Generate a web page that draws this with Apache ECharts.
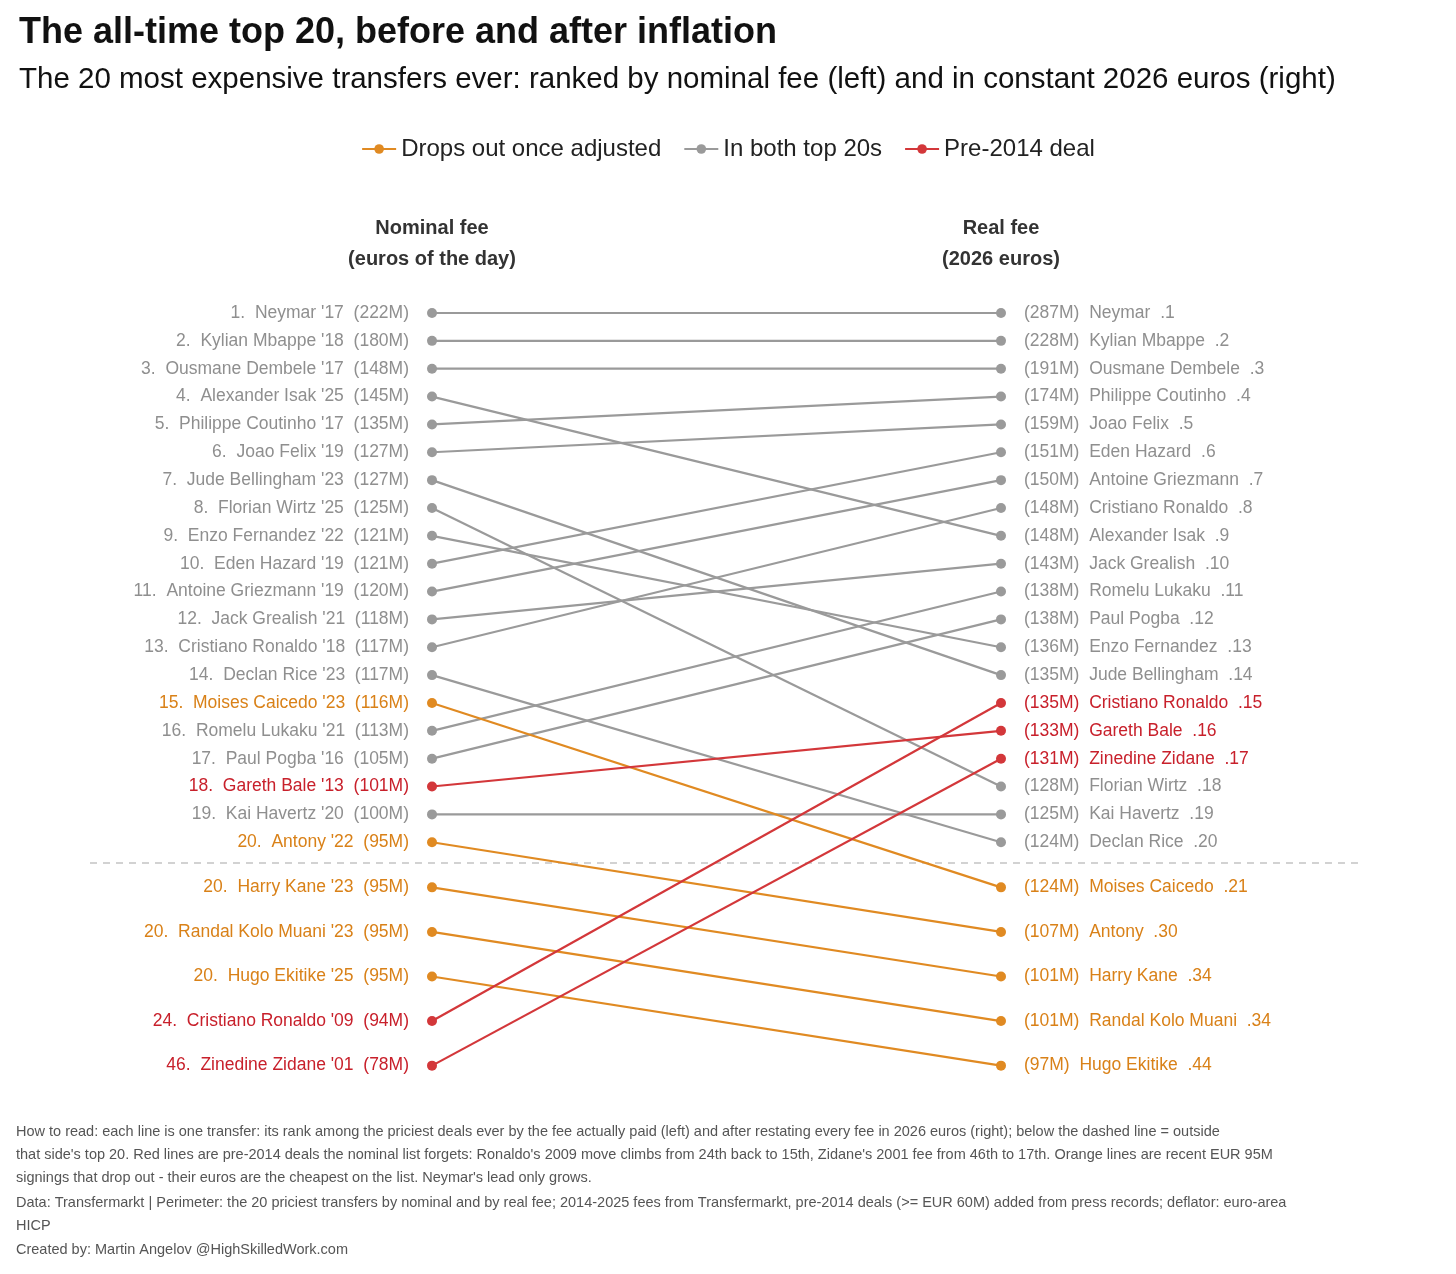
<!DOCTYPE html>
<html><head><meta charset="utf-8">
<script src="https://cdn.jsdelivr.net/npm/echarts@6/dist/echarts.min.js"></script>
<style>html,body{margin:0;padding:0;background:#fff}#c{width:1456px;height:1274px}</style>
</head><body><div id="c"></div>
<script>
const names=["Neymar","Kylian Mbappe","Ousmane Dembele","Alexander Isak","Philippe Coutinho","Joao Felix","Jude Bellingham","Florian Wirtz","Enzo Fernandez","Eden Hazard","Antoine Griezmann","Jack Grealish","Cristiano Ronaldo","Declan Rice","Moises Caicedo","Romelu Lukaku","Paul Pogba","Gareth Bale","Kai Havertz","Antony","Harry Kane","Randal Kolo Muani","Hugo Ekitike","Cristiano Ronaldo","Zinedine Zidane"];
const years=["17","18","17","25","17","19","23","25","22","19","19","21","18","23","23","21","16","13","20","22","23","23","25","09","01"];
const nominalRank=[1,2,3,4,5,6,7,8,9,10,11,12,13,14,15,16,17,18,19,20,20,20,20,24,46];
const nominalFee=[222,180,148,145,135,127,127,125,121,121,120,118,117,117,116,113,105,101,100,95,95,95,95,94,78];
const realRank=[1,2,3,9,4,5,14,18,13,6,7,10,8,20,21,11,12,16,19,30,34,34,44,15,17];
const realFee=[287,228,191,148,174,159,135,128,136,151,150,143,148,124,124,138,138,133,125,107,101,101,97,135,131];
const group=["In both top 20s","In both top 20s","In both top 20s","In both top 20s","In both top 20s","In both top 20s","In both top 20s","In both top 20s","In both top 20s","In both top 20s","In both top 20s","In both top 20s","In both top 20s","In both top 20s","Drops out once adjusted","In both top 20s","In both top 20s","Pre-2014 deal","In both top 20s","Drops out once adjusted","Drops out once adjusted","Drops out once adjusted","Drops out once adjusted","Pre-2014 deal","Pre-2014 deal"];
// row order on each side
const leftRow=[1,2,3,4,5,6,7,8,9,10,11,12,13,14,15,16,17,18,19,20,21,22,23,24,25];
const rightRow=[1,2,3,9,4,5,14,18,13,6,7,10,8,20,21,11,12,16,19,22,23,24,25,15,17];
const groups=["Drops out once adjusted","In both top 20s","Pre-2014 deal"];
const lineCol={"Drops out once adjusted":"#E08A22","In both top 20s":"#9a9a9a","Pre-2014 deal":"#D3373A"};
const textCol={"Drops out once adjusted":"#D98118","In both top 20s":"#8f8f8f","Pre-2014 deal":"#C8202B"};
const yPos=r=>r<=20?r:21.62+1.6*(r-21);

const series=[];
const order=[14,0,17].concat(names.map((_,i)=>i).filter(i=>![14,0,17].includes(i)));
order.forEach(i=>{
  const g=group[i];
  series.push({type:'line',name:g,symbol:'circle',symbolSize:10,z:g==="In both top 20s"?2:3,clip:false,
    lineStyle:{width:2.2,color:lineCol[g]},itemStyle:{color:lineCol[g]},
    data:[
      {value:[0,yPos(leftRow[i])],label:{show:true,position:'left',distance:18,color:textCol[g],fontSize:17.5,fontFamily:'Liberation Sans',
        formatter:`${nominalRank[i]}.  ${names[i]} '${years[i]}  (${nominalFee[i]}M)`}},
      {value:[1,yPos(rightRow[i])],label:{show:true,position:'right',distance:18,color:textCol[g],fontSize:17.5,fontFamily:'Liberation Sans',
        formatter:`(${realFee[i]}M)  ${names[i]}  .${realRank[i]}`}}
    ],animation:false,emphasis:{disabled:true}});
});
const foot=["How to read: each line is one transfer: its rank among the priciest deals ever by the fee actually paid (left) and after restating every fee in 2026 euros (right); below the dashed line = outside",
"that side's top 20. Red lines are pre-2014 deals the nominal list forgets: Ronaldo's 2009 move climbs from 24th back to 15th, Zidane's 2001 fee from 46th to 17th. Orange lines are recent EUR 95M",
"signings that drop out - their euros are the cheapest on the list. Neymar's lead only grows.",
"Data: Transfermarkt | Perimeter: the 20 priciest transfers by nominal and by real fee; 2014-2025 fees from Transfermarkt, pre-2014 deals (>= EUR 60M) added from press records; deflator: euro-area",
"HICP","Created by: Martin Angelov @HighSkilledWork.com"];
const footY=[1132,1155,1178,1203,1226,1250];
const chart=echarts.init(document.getElementById('c'));
chart.setOption({
  animation:false,
  textStyle:{fontFamily:'Liberation Sans'},
  title:[{text:'The all-time top 20, before and after inflation',left:14,top:10,textStyle:{fontSize:36,fontWeight:'bold',color:'#111'}},
    {text:'The 20 most expensive transfers ever: ranked by nominal fee (left) and in constant 2026 euros (right)',left:14,top:60,textStyle:{fontSize:29.5,fontWeight:'normal',color:'#111'}}],
  legend:{top:132,left:'center',itemGap:22,itemWidth:34,itemHeight:12,data:groups,textStyle:{fontSize:24,color:'#222'}},
  grid:{left:432,width:569,top:313,height:766},
  xAxis:{type:'value',min:0,max:1,show:false},
  yAxis:{type:'value',min:1,max:28.5,inverse:true,show:false},
  series:series,
  graphic:[
    {type:'line',shape:{x1:90,y1:863,x2:1362,y2:863},style:{stroke:'#c4c4c4',lineWidth:1.5,lineDash:[7,6]}},
    {type:'text',x:432,y:213,style:{text:'Nominal fee\n(euros of the day)',font:'bold 20px Liberation Sans',fill:'#333',align:'center',lineHeight:31}},
    {type:'text',x:1001,y:213,style:{text:'Real fee\n(2026 euros)',font:'bold 20px Liberation Sans',fill:'#333',align:'center',lineHeight:31}}
  ].concat(foot.map((t,k)=>({type:'text',x:16,y:footY[k]-8,style:{text:t,font:'14.5px Liberation Sans',fill:'#555'}})))
});
</script></body></html>
